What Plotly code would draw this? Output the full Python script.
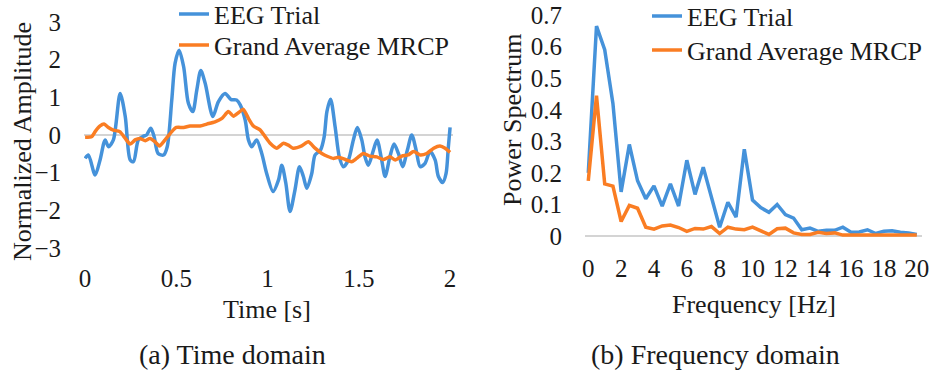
import plotly.graph_objects as go

# ---------------- data ----------------
series_names = ["EEG Trial", "Grand Average MRCP"]

eeg_time = [0, 0.018, 0.055, 0.082, 0.11, 0.128, 0.155, 0.192, 0.22, 0.247, 0.265, 0.292,
            0.32, 0.337, 0.36, 0.378, 0.40, 0.43, 0.45, 0.475, 0.493, 0.515, 0.54, 0.566,
            0.59, 0.612, 0.634, 0.658, 0.70, 0.73, 0.767, 0.80, 0.83, 0.85, 0.877, 0.895,
            0.913, 0.94, 0.968, 0.995, 1.03, 1.06, 1.078, 1.10, 1.123, 1.15, 1.175, 1.196,
            1.215, 1.242, 1.26, 1.29, 1.31, 1.325, 1.345, 1.37, 1.393, 1.415, 1.443, 1.47,
            1.492, 1.516, 1.534, 1.552, 1.58, 1.60, 1.625, 1.644, 1.67, 1.693, 1.717, 1.74,
            1.766, 1.79, 1.814, 1.836, 1.863, 1.89, 1.918, 1.936, 1.96, 1.978, 1.99, 2.0]
eeg_amp = [-0.62, -0.53, -1.06, -0.66, -0.13, -0.31, -0.13, 1.1, 0.49, -0.66, -0.71, -0.13,
           -0.03, 0.0, 0.18, -0.04, -0.49, -0.53, -0.31, 0.93, 1.9, 2.25, 1.81, 0.84,
           0.62, 1.19, 1.71, 1.37, 0.49, 0.88, 1.1, 0.94, 0.93, 0.80, 0.40, -0.13,
           -0.31, -0.13, -0.49, -1.02, -1.50, -1.19, -0.80, -1.28, -2.03, -1.46, -0.84, -1.1,
           -1.41, -1.02, -0.53, -0.40, -0.05, 0.62, 0.95, 0.22, -0.58, -0.84, -0.66, -0.13,
           0.20, -0.13, -0.58, -0.80, -0.40, -0.13, -0.66, -1.1, -0.58, -0.24, -0.49, -0.84,
           -0.40, 0.0, -0.40, -0.84, -0.75, -0.44, -0.66, -1.1, -1.26, -1.02, -0.35, 0.2]

mrcp_time = [0, 0.037, 0.055, 0.082, 0.104, 0.128, 0.155, 0.19, 0.22, 0.247, 0.274, 0.30,
             0.33, 0.356, 0.384, 0.407, 0.438, 0.475, 0.50, 0.54, 0.575, 0.63, 0.667, 0.712,
             0.75, 0.785, 0.813, 0.84, 0.867, 0.895, 0.922, 0.96, 0.986, 1.014, 1.05, 1.087,
             1.114, 1.14, 1.187, 1.223, 1.26, 1.297, 1.33, 1.36, 1.388, 1.425, 1.46, 1.488,
             1.525, 1.56, 1.598, 1.634, 1.67, 1.70, 1.735, 1.77, 1.80, 1.836, 1.872, 1.91,
             1.945, 1.973, 2.0]
mrcp_amp = [-0.06, -0.04, 0.09, 0.24, 0.29, 0.20, 0.13, 0.09, -0.09, -0.24, -0.13, -0.09,
            -0.15, -0.09, -0.18, -0.29, -0.13, 0.09, 0.20, 0.20, 0.24, 0.24, 0.29, 0.35,
            0.44, 0.62, 0.50, 0.59, 0.68, 0.44, 0.24, 0.13, -0.04, -0.22, -0.35, -0.22,
            -0.27, -0.35, -0.29, -0.18, -0.35, -0.49, -0.57, -0.62, -0.59, -0.65, -0.71, -0.62,
            -0.49, -0.56, -0.58, -0.65, -0.58, -0.66, -0.56, -0.53, -0.44, -0.53, -0.49, -0.35,
            -0.29, -0.35, -0.46]

freq_hz = [0, 0.5, 1, 1.5, 2, 2.5, 3, 3.5, 4, 4.5, 5, 5.5, 6, 6.5, 7, 7.5, 8, 8.5, 9, 9.5,
           10, 10.5, 11, 11.5, 12, 12.5, 13, 13.5, 14, 14.5, 15, 15.5, 16, 16.5, 17, 17.5,
           18, 18.5, 19, 19.5, 20]
eeg_power = [0.20, 0.665, 0.59, 0.42, 0.14, 0.29, 0.175, 0.118, 0.159, 0.095, 0.165, 0.095,
             0.24, 0.132, 0.218, 0.125, 0.028, 0.107, 0.06, 0.275, 0.114, 0.09, 0.075, 0.10,
             0.068, 0.057, 0.02, 0.025, 0.015, 0.018, 0.018, 0.028, 0.012, 0.013, 0.02, 0.008,
             0.015, 0.017, 0.012, 0.01, 0.005]
mrcp_power = [0.175, 0.445, 0.165, 0.158, 0.046, 0.097, 0.088, 0.028, 0.022, 0.032, 0.035,
              0.027, 0.015, 0.024, 0.022, 0.03, 0.008, 0.028, 0.022, 0.02, 0.028, 0.015,
              0.005, 0.023, 0.025, 0.01, 0.005, 0.005, 0.012, 0.008, 0.01, 0.003, 0.004,
              0.003, 0.003, 0.003, 0.003, 0.003, 0.003, 0.003, 0.003]

time_ticks = [0, 0.5, 1, 1.5, 2]
amp_ticks = [-3, -2, -1, 0, 1, 2, 3]
freq_ticks = [0, 2, 4, 6, 8, 10, 12, 14, 16, 18, 20]
power_ticks = [0, 0.1, 0.2, 0.3, 0.4, 0.5, 0.6, 0.7]

captions = ["(a) Time domain", "(b) Frequency domain"]
axis_titles = ["Time [s]", "Normalized Amplitude", "Frequency [Hz]", "Power Spectrum"]

# ---------------- style ----------------
W, H = 933, 376
BLUE = "#4592DA"
ORANGE = "#FA7D23"
FONT = "Liberation Serif"
FS = 25
TXT = "#1a1a1a"

def px(x):
    return x / W

def py(y):
    return 1 - y / H

fig = go.Figure()

fig.add_trace(go.Scatter(x=eeg_time, y=eeg_amp, name=series_names[0], mode="lines",
                         line=dict(color=BLUE, width=3.5, shape="spline", smoothing=0.8),
                         xaxis="x", yaxis="y", legend="legend"))
fig.add_trace(go.Scatter(x=mrcp_time, y=mrcp_amp, name=series_names[1], mode="lines",
                         line=dict(color=ORANGE, width=3.5, shape="spline", smoothing=0.6),
                         xaxis="x", yaxis="y", legend="legend2"))
fig.add_trace(go.Scatter(x=freq_hz, y=eeg_power, name=series_names[0], mode="lines",
                         line=dict(color=BLUE, width=3.5),
                         xaxis="x2", yaxis="y2", legend="legend3"))
fig.add_trace(go.Scatter(x=freq_hz, y=mrcp_power, name=series_names[1], mode="lines",
                         line=dict(color=ORANGE, width=3.5),
                         xaxis="x2", yaxis="y2", legend="legend4"))

tickfont = dict(family=FONT, size=FS, color=TXT)
common = dict(showgrid=False, showline=False, ticks="", tickfont=tickfont, fixedrange=True)

def leg(x_px, y_px):
    return dict(x=px(x_px), y=py(y_px), xanchor="left", yanchor="middle",
                bgcolor="rgba(0,0,0,0)", borderwidth=0,
                font=dict(family=FONT, size=26, color=TXT))

fig.update_layout(
    width=W, height=H,
    margin=dict(l=0, r=0, t=0, b=0, autoexpand=False),
    paper_bgcolor="white", plot_bgcolor="white",
    font=dict(family=FONT, size=FS, color=TXT),
    xaxis=dict(domain=[px(84), px(453)], range=[-0.006, 2.016], tickvals=time_ticks,
               zeroline=False, anchor="y", ticklabelstandoff=11, **common),
    yaxis=dict(domain=[py(250), py(20)], range=[-3.05, 3.05], tickvals=amp_ticks,
               zeroline=True, zerolinecolor="#d4d4d4", zerolinewidth=1.5, anchor="x",
               ticklabelstandoff=22, **common),
    xaxis2=dict(domain=[px(585), px(922)], range=[-0.2, 20.32], tickvals=freq_ticks,
                zeroline=False, anchor="y2", ticklabelstandoff=12, **common),
    yaxis2=dict(domain=[py(239.2), py(11.9)], range=[-0.01, 0.71], tickvals=power_ticks,
                zeroline=True, zerolinecolor="#d4d4d4", zerolinewidth=1.5, anchor="x2",
                ticklabelstandoff=22, **common),
    legend=leg(174, 14),
    legend2=leg(174, 45),
    legend3=leg(647, 16),
    legend4=leg(647, 50),
    showlegend=True,
)

ann = []
ann.append(dict(text=axis_titles[0], x=px(267), y=py(309), xref="paper", yref="paper",
                showarrow=False, xanchor="center", yanchor="middle",
                font=dict(family=FONT, size=26, color=TXT)))
ann.append(dict(text=axis_titles[1], x=px(22), y=py(142), xref="paper", yref="paper",
                showarrow=False, xanchor="center", yanchor="middle", textangle=-90,
                font=dict(family=FONT, size=26, color=TXT)))
ann.append(dict(text=axis_titles[2], x=px(754), y=py(304), xref="paper", yref="paper",
                showarrow=False, xanchor="center", yanchor="middle",
                font=dict(family=FONT, size=26, color=TXT)))
ann.append(dict(text=axis_titles[3], x=px(512), y=py(120), xref="paper", yref="paper",
                showarrow=False, xanchor="center", yanchor="middle", textangle=-90,
                font=dict(family=FONT, size=26, color=TXT)))
ann.append(dict(text=captions[0], x=px(232), y=py(354), xref="paper", yref="paper",
                showarrow=False, xanchor="center", yanchor="middle",
                font=dict(family=FONT, size=28, color=TXT)))
ann.append(dict(text=captions[1], x=px(715), y=py(354), xref="paper", yref="paper",
                showarrow=False, xanchor="center", yanchor="middle",
                font=dict(family=FONT, size=28, color=TXT)))
fig.update_layout(annotations=ann)

fig.write_html("out.html")
